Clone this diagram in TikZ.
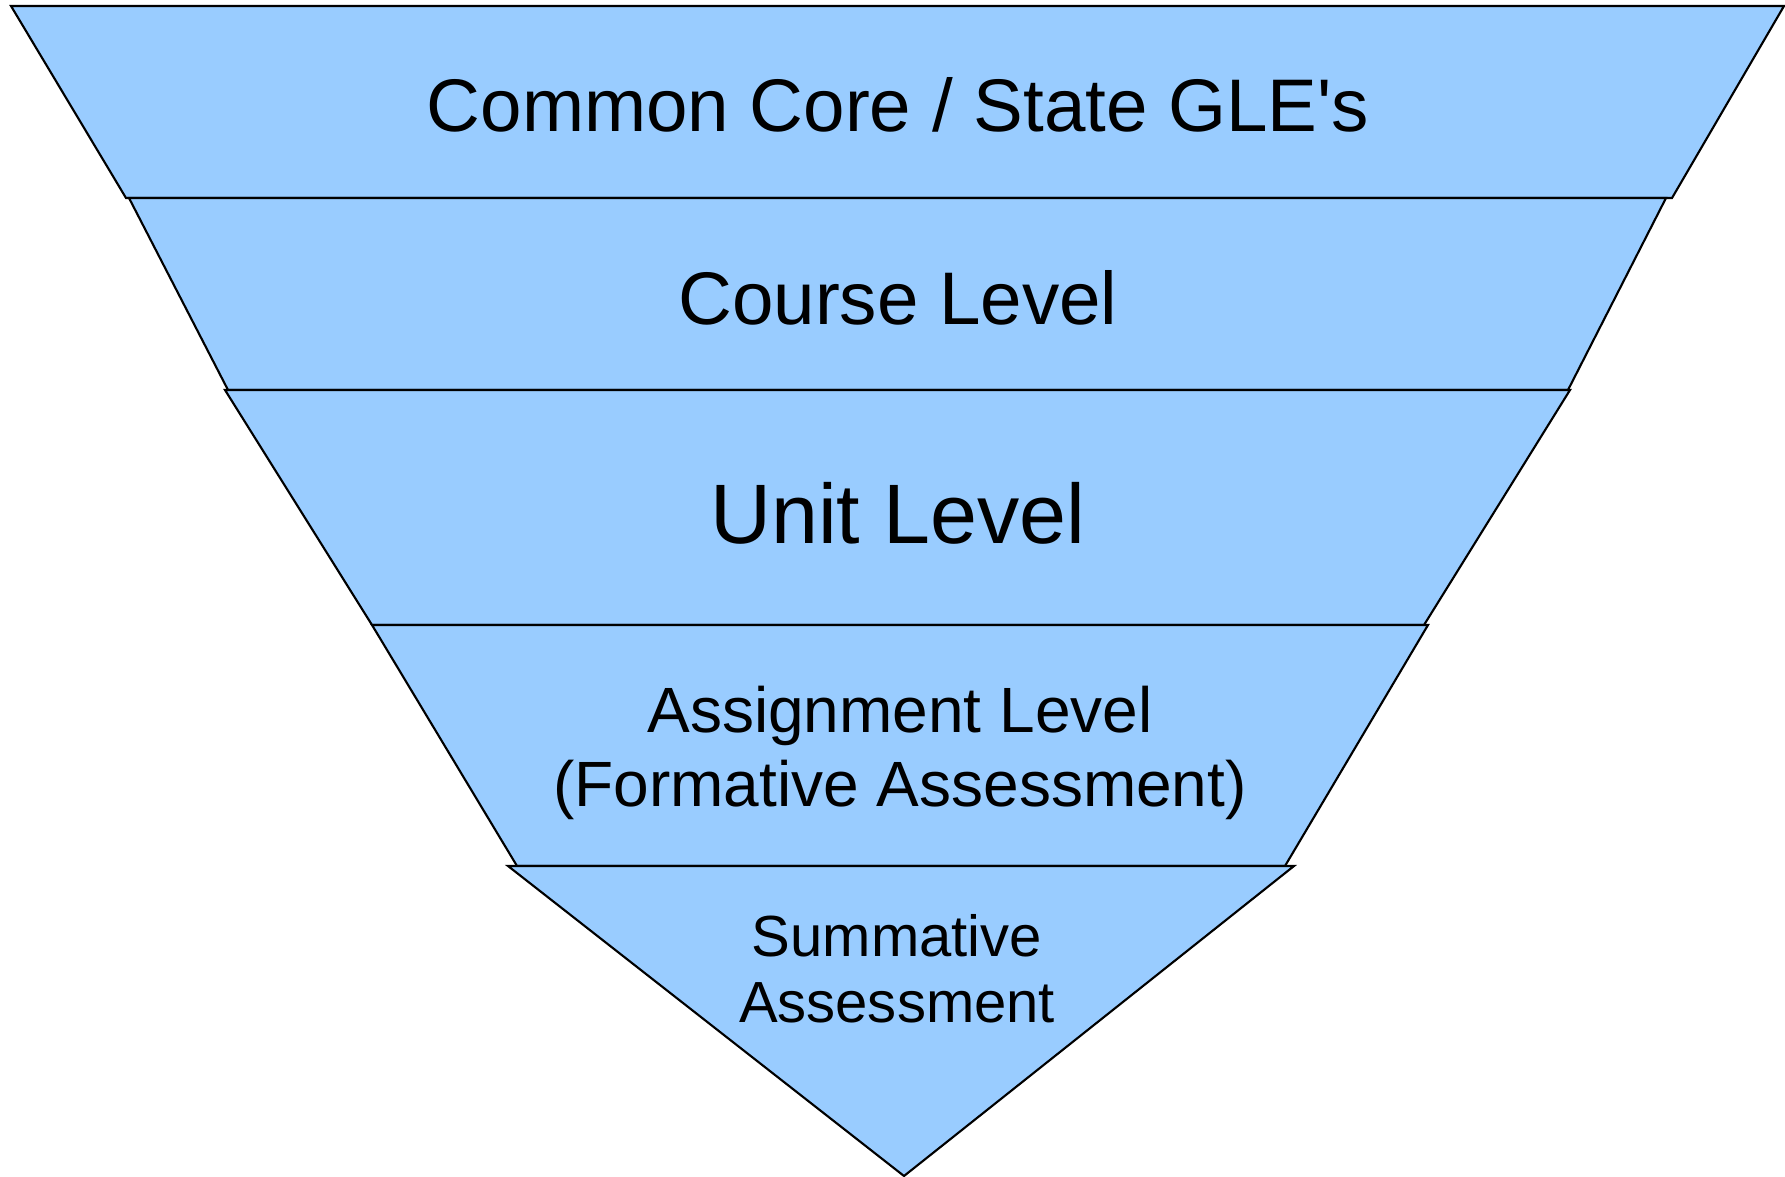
\documentclass[tikz,border=0pt]{standalone}
\usepackage{fontspec}
\setmainfont{Liberation Sans}[Ligatures=TeXOff]
\definecolor{funnelblue}{HTML}{99CCFF}

\begin{document}
\begin{tikzpicture}[
    x=0.01cm, y=-0.01cm,
    level/.style={fill=funnelblue, draw=black, line width=0.6pt, line join=miter},
    leveltext/.style={anchor=base, align=center, inner sep=0pt},
    bigfont/.style={font=\fontsize{21.2}{24}\selectfont},
    unitfont/.style={font=\fontsize{24}{28}\selectfont},
    midfont/.style={font=\fontsize{18.2}{21.05}\selectfont},
    smallfont/.style={font=\fontsize{16.5}{18.8}\selectfont}
]
\useasboundingbox (0,0) rectangle (1785,1177);

% Layer 1: Common Core
\filldraw[level] (11,6) -- (1784,6) -- (1672,198) -- (126,198) -- cycle;
\node[leveltext, bigfont] (core) at (898,132) {Common Core / State GLE's};

% Layer 2: Course
\filldraw[level] (129,198) -- (1666,198) -- (1568,390) -- (228,390) -- cycle;
\node[leveltext, bigfont] (course) at (898,325) {Course Level};

% Layer 3: Unit
\filldraw[level] (225,390) -- (1570,390) -- (1424,625) -- (372,625) -- cycle;
\node[leveltext, unitfont] (unit) at (898,544) {Unit Level};

% Layer 4: Assignment
\filldraw[level] (372,625) -- (1428,625) -- (1285,866) -- (517,866) -- cycle;
\node[leveltext, midfont] (assignment) at (900,807) {Assignment Level\\(Formative Assessment)};

% Layer 5: Summative
\filldraw[level] (508,866) -- (1294,866) -- (904,1176) -- cycle;
\node[leveltext, smallfont] (summative) at (897,1023) {Summative\\Assessment};

\end{tikzpicture}
\end{document}
